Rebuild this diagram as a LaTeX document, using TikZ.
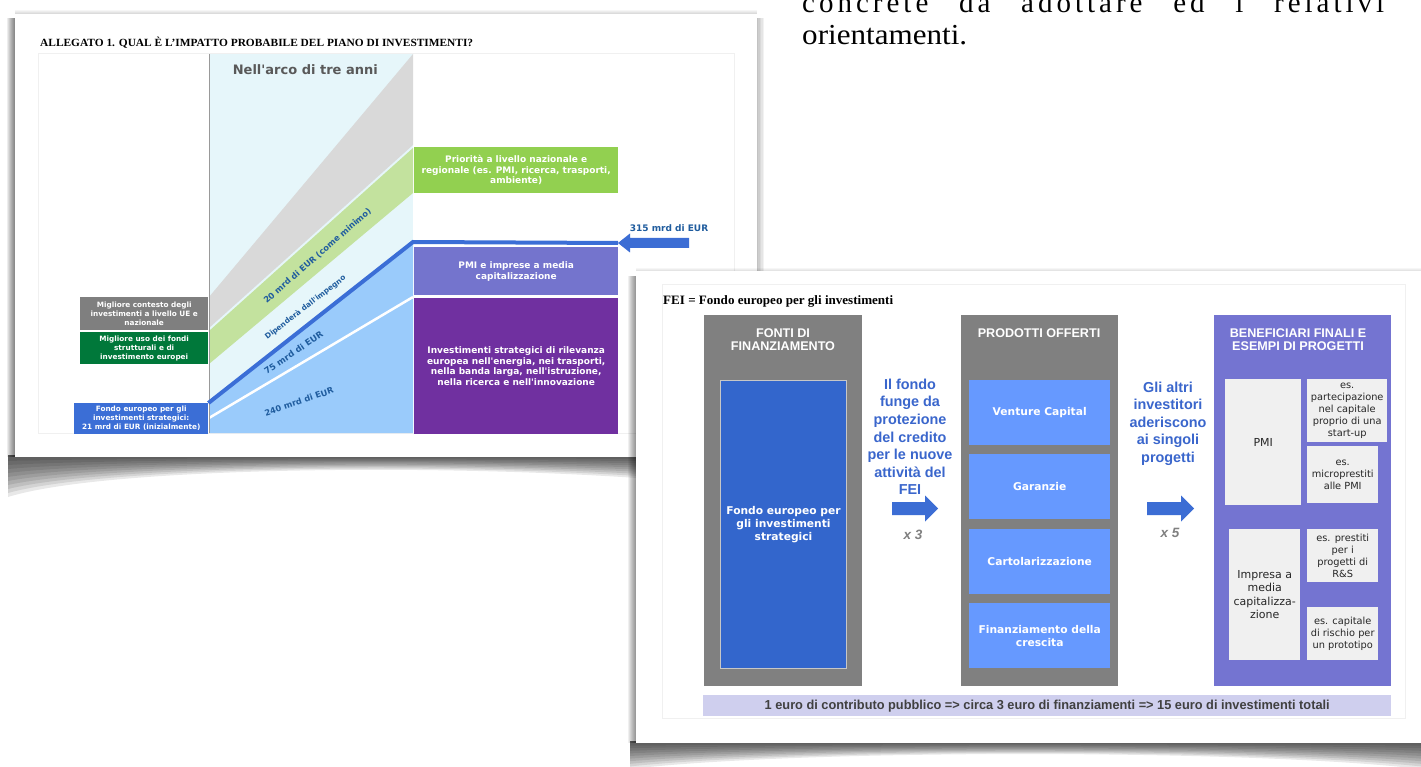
\documentclass[tikz,border=0pt]{standalone}
\usepackage{graphicx}
\usepackage{fontspec}
\setmainfont{Liberation Serif}
\newfontfamily\verd{DejaVu Sans}
\newfontfamily\helv{Liberation Sans}
\newfontfamily\tms{Liberation Serif}
\newsavebox{\fitbox}
\newcommand{\fitw}[2]{\sbox{\fitbox}{#2}\resizebox{#1}{\ht\fitbox}{\usebox{\fitbox}}}
\def\spaceout#1{\spaceoutA#1\relax}
\def\spaceoutA#1{\ifx#1\relax\else#1\kern4pt\expandafter\spaceoutA\fi}
\definecolor{cyanbg}{HTML}{E6F6FA}
\definecolor{bandgray}{HTML}{D9D9D9}
\definecolor{bandgreen}{HTML}{C3E29E}
\definecolor{lblue}{HTML}{9ACBFB}
\definecolor{lineblue}{HTML}{3B6ED6}
\definecolor{prigreen}{HTML}{92D050}
\definecolor{pmipurple}{HTML}{7474CD}
\definecolor{stratpurple}{HTML}{7030A0}
\definecolor{ctxgray}{HTML}{7F7F7F}
\definecolor{dkgreen}{HTML}{00783A}
\definecolor{labblue}{HTML}{1F5C9E}
\definecolor{titlegray}{HTML}{595959}
\definecolor{colgray}{HTML}{808080}
\definecolor{feiblue}{HTML}{3366CC}
\definecolor{prodblue}{HTML}{6699FF}
\definecolor{benpurple}{HTML}{7474D1}
\definecolor{boxgray}{HTML}{F0F0F0}
\definecolor{barlav}{HTML}{CFCFEE}
\definecolor{midblue}{HTML}{3A66CC}
\definecolor{arrowblue}{HTML}{3C6DD4}
\definecolor{bartext}{HTML}{404040}
\tikzset{
 cbox/.style={fill=#1, text=white, align=center, inner sep=0pt, anchor=north west,
   font=\verd\bfseries\fontsize{9}{10.7}\selectfont},
 lbox/.style={fill=#1, text=white, align=center, inner sep=0pt, anchor=north west,
   font=\verd\bfseries\fontsize{7.3}{9}\selectfont},
 rlab/.style={text=labblue, inner sep=0pt, font=\verd\bfseries\fontsize{#1}{#1}\selectfont},
 colbox/.style={fill=#1, anchor=north west, inner sep=0pt},
 coltitle/.style={text=white, align=center, inner sep=0pt,
   font=\helv\bfseries\fontsize{12.6}{13.3}\selectfont},
 prodbox/.style={fill=prodblue, text=white, align=center, inner sep=0pt, anchor=north west,
   minimum width=141, minimum height=65, font=\verd\bfseries\fontsize{10.7}{13}\selectfont},
 midtext/.style={text=midblue, align=center, inner sep=0pt,
   font=\helv\bfseries\fontsize{14.4}{17.6}\selectfont},
 benbox/.style={fill=boxgray, text=black!85, align=center, inner sep=0pt, anchor=north west,
   font=\verd\fontsize{9.8}{12}\selectfont},
 multlabel/.style={text=colgray, inner sep=0pt, font=\helv\bfseries\itshape\fontsize{13.5}{14}\selectfont},
}
\begin{document}
\begin{tikzpicture}[x=1pt,y=-1pt]
\useasboundingbox (0,0) rectangle (1421,767);
\fill[white] (0,0) rectangle (1421,767);

% ---------- left card: shadows ----------
\foreach \i in {1,...,8}{\fill[black,opacity=0.07] ({15-\i},18) rectangle (15,457);}
\foreach \i in {1,...,10}{\pgfmathsetmacro{\f}{\i/10}
  \fill[black,opacity=0.09] (8,455) -- (760,455) -- (760,{457+33*\f})
   .. controls (560,{457+5*\f}) and (120,{457+5*\f}) .. (8,{457+40*\f}) -- cycle;}
\foreach \i in {1,...,5}{\fill[black,opacity=0.05] (757,18) rectangle ({757+\i*1.4},457);}
\foreach \i in {1,...,4}{\fill[black,opacity=0.035] (15,{14-\i}) rectangle (757,14);}
\fill[white] (15,14) rectangle (757,457);
\draw[black!6, line width=0.8] (38,53) rectangle (734,433);

\node[anchor=base west, inner sep=0] (title) at (40,46.5)
  {\fitw{433pt}{\tms\bfseries\fontsize{11}{12}\selectfont ALLEGATO 1. QUAL È L’IMPATTO PROBABILE DEL PIANO DI INVESTIMENTI?}};

% chart bands
\fill[cyanbg] (209,54) rectangle (413,432);
\fill[bandgray] (209,297) -- (413,54) -- (413,145) -- (209,328) -- cycle;
\fill[bandgreen] (209,331) -- (413,148) -- (413,193) -- (209,364) -- cycle;
\fill[lblue] (209,404) -- (413,243) -- (413,433) -- (209,433) -- cycle;
\draw[white, line width=2.5] (209,418) -- (413,297);
\draw[black!40, line width=1] (209,54) -- (209,433);

\node[anchor=base, inner sep=0, text=titlegray, font=\verd\bfseries\fontsize{13}{15}\selectfont] (arco) at (305.3,75) {Nell'arco di tre anni};

% right boxes of the chart
\node[cbox=prigreen, minimum width=204, minimum height=46] (prio) at (414,147)
  {Priorità a livello nazionale e\\regionale (es. PMI, ricerca, trasporti,\\ambiente)};
\node[cbox=pmipurple, minimum width=204, minimum height=48] (pmi) at (414,247)
  {PMI e imprese a media\\capitalizzazione};
\node[cbox=stratpurple, minimum width=204, minimum height=136] (strat) at (414,298)
  {Investimenti strategici di rilevanza\\europea nell'energia, nei trasporti,\\nella banda larga, nell'istruzione,\\nella ricerca e nell'innovazione};

% left boxes
\node[lbox=ctxgray, minimum width=128, minimum height=33] (ctx) at (80,297)
  {Migliore contesto degli\\investimenti a livello UE e\\nazionale};
\node[lbox=dkgreen, minimum width=128, minimum height=32] (uso) at (80,332)
  {Migliore uso dei fondi\\strutturali e di\\investimento europei};
\node[lbox=lineblue, minimum width=134, minimum height=31] (feis) at (74,403)
  {Fondo europeo per gli\\investimenti strategici:\\21 mrd di EUR (inizialmente)};

% blue line and 315 arrow
\coordinate (bend) at (413,242);
\coordinate (tip) at (618,243);
\draw[lineblue, line width=4] (feis.north east) -- (bend) -- (tip);
\fill[arrowblue] (tip) -- ++(12,-9.5) -- ++(0,4.5) -- ++(59,0) -- ++(0,10) -- ++(-59,0) -- ++(0,4.5) -- cycle;
\node[text=labblue, inner sep=0, font=\verd\bfseries\fontsize{9}{10}\selectfont] (l315) at (669,228) {315 mrd di EUR};

% rotated labels
\node[rlab=8.3, rotate=41.2] (l20) at (317.5,256) {20 mrd di EUR (come minimo)};
\node[rlab=7.4, rotate=37.7] (ldip) at (305.5,307.5) {Dipenderà dall'impegno};
\node[rlab=8.6, rotate=34.4] (l75) at (293.5,352.5) {75 mrd di EUR};
\node[rlab=8.3, rotate=18.7] (l240) at (299,401.5) {240 mrd di EUR};

% ---------- text at top right ----------
\node[anchor=base west, inner sep=0, font=\tms\fontsize{29}{30}\selectfont] (line1) at (802,12.5)
  {\makebox[586pt][s]{\spaceout{concrete}\hfill\spaceout{da}\hfill\spaceout{adottare}\hfill\spaceout{ed}\hfill\spaceout{i}\hfill\spaceout{relativi}}};
\node[anchor=base west, inner sep=0] (line2) at (802,45)
  {\fitw{165pt}{\tms\fontsize{29}{30}\selectfont orientamenti.}};

% ---------- right card: shadows ----------
\foreach \i in {1,...,8}{\fill[black,opacity=0.06] ({636-\i},276) rectangle (636,743);}
\foreach \i in {1,...,10}{\pgfmathsetmacro{\f}{\i/10}
  \fill[black,opacity=0.09] (630,741) -- (1421,741) -- (1421,{743+26*\f})
   .. controls (1250,{743+6*\f}) and (800,{743+6*\f}) .. (630,{743+26*\f}) -- cycle;}
\foreach \i in {1,...,3}{\fill[black,opacity=0.035] (636,{271-\i}) rectangle (1421,271);}
\fill[white] (636,271) rectangle (1421,743);
\draw[black!6, line width=0.8] (662,284) rectangle (1405,718);

\node[anchor=base west, inner sep=0] (fei) at (663,304.3)
  {\fitw{230pt}{\tms\bfseries\fontsize{12.8}{14}\selectfont FEI = Fondo europeo per gli investimenti}};

% column 1
\node[colbox=colgray, minimum width=158, minimum height=371] (c1) at (704,315) {};
\node[coltitle] (c1t) at (783,340) {FONTI DI\\FINANZIAMENTO};
\node[fill=feiblue, draw=black!22, line width=1, anchor=north west, minimum width=126, minimum height=288,
  inner sep=0, text=white, align=center, font=\verd\bfseries\fontsize{10.7}{13}\selectfont] (fondo) at (720,380)
  {Fondo europeo per\\gli investimenti\\strategici};

% middle 1
\node[midtext] (m1) at (910,436.8) {Il fondo\\funge da\\protezione\\del credito\\per le nuove\\attività del\\FEI};
\coordinate (a1) at (892,508.5);
\fill[arrowblue] (a1) ++(0,-6.5) -- ++(33,0) -- ++(0,-6.5) -- ++(13,13) -- ++(-13,13) -- ++(0,-6.5) -- ++(-33,0) -- cycle;
\node[multlabel] (x3) at (913,535) {x 3};

% column 2
\node[colbox=colgray, minimum width=157, minimum height=371] (c2) at (961,315) {};
\node[coltitle] (c2t) at (1039,333) {PRODOTTI OFFERTI};
\node[prodbox] (vc) at (969,380) {Venture Capital};
\node[prodbox] (gar) at (969,454) {Garanzie};
\node[prodbox] (cart) at (969,529) {Cartolarizzazione};
\node[prodbox] (fin) at (969,603) {Finanziamento della\\crescita};

% middle 2
\node[midtext] (m2) at (1168,423.6) {Gli altri\\investitori\\aderiscono\\ai singoli\\progetti};
\coordinate (a2) at (1147,508.5);
\fill[arrowblue] (a2) ++(0,-6.5) -- ++(34,0) -- ++(0,-6.5) -- ++(13,13) -- ++(-13,13) -- ++(0,-6.5) -- ++(-34,0) -- cycle;
\node[multlabel] (x5) at (1170,533) {x 5};

% column 3
\node[colbox=benpurple, minimum width=177, minimum height=371] (c3) at (1214,315) {};
\node[coltitle] (c3t) at (1298,340) {BENEFICIARI FINALI E\\ESEMPI DI PROGETTI};
\node[benbox, minimum width=76, minimum height=126, font=\verd\fontsize{11}{13.3}\selectfont] (bpmi) at (1225,379) {PMI};
\node[benbox, minimum width=80, minimum height=63] (bpart) at (1307,379) {es.\\partecipazione\\nel capitale\\proprio di una\\start-up};
\node[benbox, minimum width=71, minimum height=57] (bmicro) at (1307,446) {es.\\microprestiti\\alle PMI};
\node[benbox, minimum width=71, minimum height=131, font=\verd\fontsize{11}{13.3}\selectfont] (bimp) at (1229,529) {Impresa a\\media\\capitalizza-\\zione};
\node[benbox, minimum width=71, minimum height=53] (brs) at (1307,529) {es. prestiti\\per i\\progetti di\\R\&S};
\node[benbox, minimum width=71, minimum height=53] (bcap) at (1307,607) {es. capitale\\di rischio per\\un prototipo};

% bottom bar
\node[fill=barlav, anchor=north west, minimum width=688, minimum height=21, inner sep=0, text=bartext] (bar) at (703,695)
  {\fitw{565pt}{\helv\bfseries\fontsize{13}{14}\selectfont 1 euro di contributo pubblico => circa 3 euro di finanziamenti => 15 euro di investimenti totali}};
\end{tikzpicture}
\end{document}
